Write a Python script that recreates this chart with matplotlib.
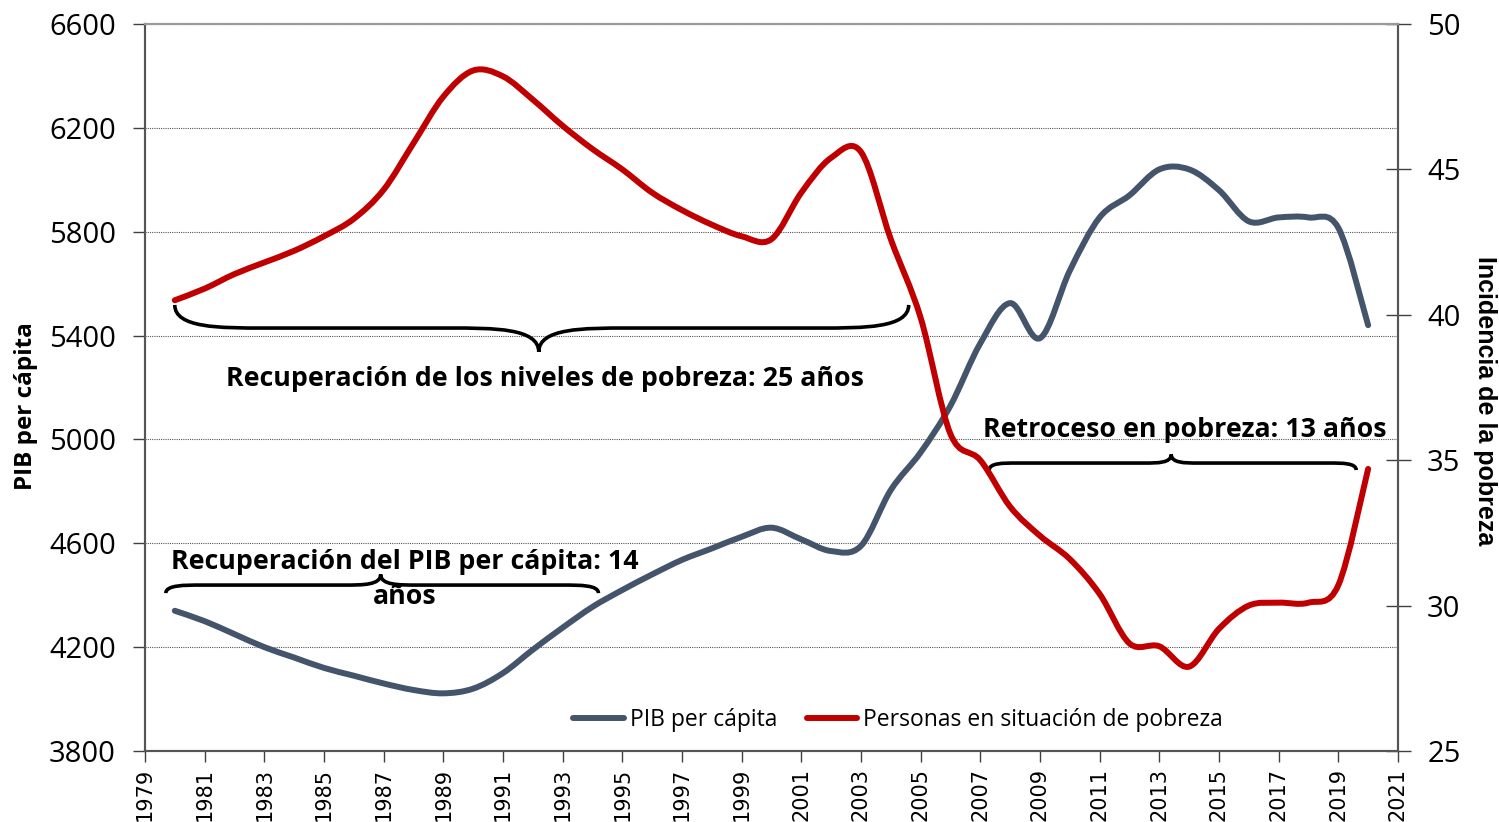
import matplotlib
matplotlib.use('Agg')
import matplotlib.pyplot as plt
from matplotlib.path import Path
from matplotlib.patches import PathPatch
from matplotlib.lines import Line2D
import numpy as np

years = list(range(1980, 2021))

pib = [4340, 4300, 4250, 4200, 4160, 4120, 4090, 4060, 4035, 4022,
       4040, 4100, 4190, 4275, 4355, 4420, 4480, 4536, 4580, 4625,
       4660, 4615, 4570, 4590, 4805, 4950, 5130, 5370, 5525, 5390,
       5650, 5855, 5940, 6040, 6040, 5960, 5840, 5855, 5855, 5815,
       5440]

pobreza = [40.5, 40.9, 41.4, 41.8, 42.2, 42.7, 43.3, 44.3, 45.9, 47.5,
           48.4, 48.2, 47.4, 46.5, 45.7, 45.0, 44.2, 43.6, 43.1, 42.7,
           42.6, 44.2, 45.4, 45.6, 42.6, 39.9, 35.9, 35.0, 33.4, 32.4,
           31.6, 30.4, 28.7, 28.6, 27.9, 29.2, 30.0, 30.1, 30.1, 30.7,
           34.7]

x_ticks = list(range(1979, 2022, 2))
left_ticks = [3800, 4200, 4600, 5000, 5400, 5800, 6200, 6600]
right_ticks = [25, 30, 35, 40, 45, 50]

# braces: x start, x tip, x end, y at ends, y of the bar, y of tip, curve length
brace_pobreza = [1980.0, 1992.2, 2004.6, 5518, 5429, 5337, 3.0]
brace_pib = [1979.7, 1986.9, 1994.2, 4408, 4439, 4480, 1.2]
brace_retro = [2007.3, 2013.4, 2019.6, 4882, 4909, 4942, 0.9]

azul = '#44546A'
rojo = '#C00000'


def smooth_path(xs, ys):
    # excel-like smoothed line: bezier through every point
    pts = np.column_stack([xs, ys]).astype(float)
    verts = [pts[0]]
    codes = [Path.MOVETO]
    n = len(pts)
    for i in range(n - 1):
        p0 = pts[i - 1] if i > 0 else pts[i]
        p1 = pts[i]
        p2 = pts[i + 1]
        p3 = pts[i + 2] if i + 2 < n else pts[i + 1]
        verts += [p1 + (p2 - p0) / 6.0, p2 - (p3 - p1) / 6.0, p2]
        codes += [Path.CURVE4] * 3
    return Path(verts, codes)


def brace_path(b):
    x0, xm, x1, ye, yl, yt, a = b
    verts = [(x0, ye), (x0, yl), (x0 + a / 2, yl), (x0 + a, yl),
             (xm - a, yl),
             (xm - a / 2, yl), (xm, yl), (xm, yt),
             (xm, yl), (xm + a / 2, yl), (xm + a, yl),
             (x1 - a, yl),
             (x1 - a / 2, yl), (x1, yl), (x1, ye)]
    codes = [Path.MOVETO, Path.CURVE4, Path.CURVE4, Path.CURVE4,
             Path.LINETO,
             Path.CURVE4, Path.CURVE4, Path.CURVE4,
             Path.CURVE4, Path.CURVE4, Path.CURVE4,
             Path.LINETO,
             Path.CURVE4, Path.CURVE4, Path.CURVE4]
    return Path(verts, codes)


fig = plt.figure(figsize=(14.99, 8.22), dpi=100)
ax = fig.add_axes([0.0967, 0.0864, 0.8359, 0.8844])
ax2 = ax.twinx()

ax.set_xlim(1979, 2021)
ax.set_ylim(3800, 6600)
ax2.set_ylim(25, 50)

ax.set_xticks(x_ticks)
ax.set_xticklabels([str(t) for t in x_ticks], rotation=90,
                   fontsize=15, family='DejaVu Sans')
ax.set_yticks(left_ticks)
ax.set_yticklabels([str(t) for t in left_ticks], fontsize=21,
                   family='Open Sans')
ax2.set_yticks(right_ticks)
ax2.set_yticklabels([str(t) for t in right_ticks], fontsize=21,
                    family='Open Sans')

ax.tick_params(axis='x', direction='out', length=8, width=1, color='#404040', pad=4)
ax.tick_params(axis='y', direction='out', length=9, width=1, color='#404040', pad=12)
ax2.tick_params(axis='y', direction='inout', length=18, width=1, color='#404040', pad=12)

for a_ in (ax, ax2):
    for s in ['left', 'right', 'bottom']:
        a_.spines[s].set_color('#555555')
        a_.spines[s].set_linewidth(1.5)
    a_.spines['top'].set_color('#999999')
    a_.spines['top'].set_linewidth(1.5)

ax.yaxis.grid(True, linestyle=(0, (1, 1)), color='#555555', linewidth=0.8)
ax.set_axisbelow(True)

ax.add_patch(PathPatch(smooth_path(years, pib), fill=False,
                       edgecolor=azul, linewidth=4.3, capstyle='round',
                       zorder=3))
ax2.add_patch(PathPatch(smooth_path(years, pobreza), fill=False,
                        edgecolor=rojo, linewidth=4.3, capstyle='round',
                        zorder=3))

for b in (brace_pobreza, brace_pib, brace_retro):
    ax.add_patch(PathPatch(brace_path(b), fill=False, edgecolor='black',
                           linewidth=2.6, zorder=4))

ax.text(1992.4, 5232, 'Recuperación de los niveles de pobreza: 25 años',
        ha='center', va='center', fontsize=19.3, fontweight='bold',
        family='Open Sans', zorder=5)
ax.text(2013.85, 5036, 'Retroceso en pobreza: 13 años',
        ha='center', va='center', fontsize=19.3, fontweight='bold',
        family='Open Sans', zorder=5)
ax.text(1987.7, 4462, 'Recuperación del PIB per cápita: 14\naños',
        ha='center', va='center', fontsize=19.3, fontweight='bold',
        family='Open Sans', multialignment='center', linespacing=1.45,
        zorder=5)

ax.set_ylabel('PIB per cápita', fontsize=17.5, fontweight='bold',
              family='Open Sans', labelpad=8)
ax2.set_ylabel('Incidencia de la pobreza', fontsize=18, fontweight='bold',
               family='Liberation Sans', rotation=-90, labelpad=26)
ax.yaxis.label.set_y(0.475)
ax2.yaxis.label.set_y(0.482)

handles = [Line2D([], [], color=azul, linewidth=4.3, solid_capstyle='round'),
           Line2D([], [], color=rojo, linewidth=4.3, solid_capstyle='round')]
leg = ax.legend(handles, ['PIB per cápita', 'Personas en situación de pobreza'],
                loc='center', bbox_to_anchor=(0.601, 0.043), ncol=2,
                frameon=False, handlelength=2.2, handletextpad=0.25,
                columnspacing=1.3, prop={'family': 'Open Sans', 'size': 16.5})

fig.savefig('out.png', dpi=100)
